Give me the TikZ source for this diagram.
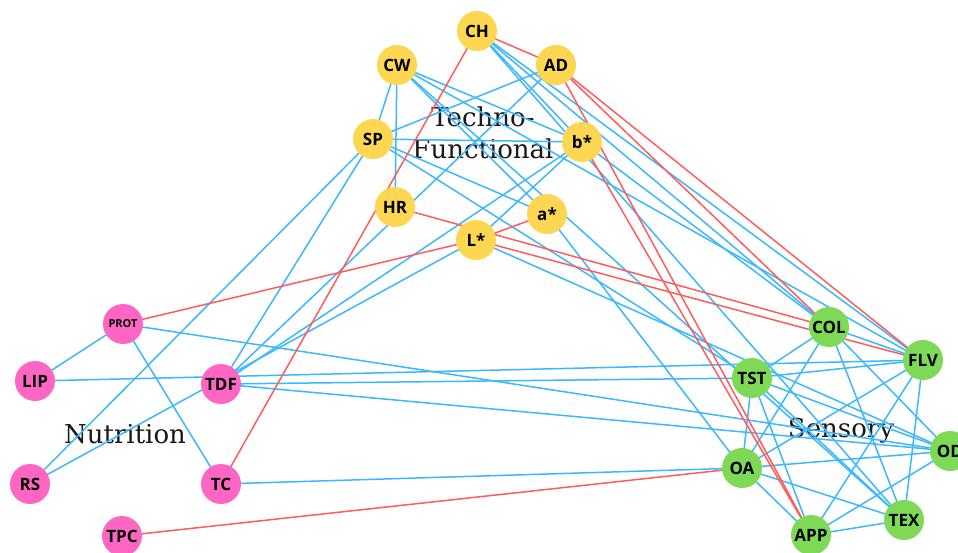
\documentclass[tikz,border=0pt]{standalone}
\usepackage{fontspec}
\newfontfamily\nodefont{Open Sans}
\newfontfamily\grpfont{DejaVu Serif}
\definecolor{ylw}{HTML}{FDD752}
\definecolor{pnk}{HTML}{FF66C4}
\definecolor{grn}{HTML}{7ED957}
\definecolor{blu}{HTML}{3CB8FF}
\definecolor{rd}{HTML}{FF5C5C}
\tikzset{
  nd/.style={circle,minimum size=40pt,inner sep=0pt,font=\nodefont\bfseries\fontsize{17}{17}\selectfont},
  yn/.style={nd,fill=ylw},
  pn/.style={nd,fill=pnk},
  gn/.style={nd,fill=grn},
  be/.style={blu,line width=1.5pt},
  re/.style={rd,line width=1.5pt},
  grp/.style={font=\grpfont\fontsize{26}{32}\selectfont,align=center,text=black!90}
}
\begin{document}
\begin{tikzpicture}[x=1pt,y=-1pt]
\useasboundingbox (0,0) rectangle (958,552);
\clip (0,0) rectangle (958,552);
\fill[white] (0,0) rectangle (958,552);
% labels
\node[grp] (tf) at (483,133) {Techno-\\Functional};
\node[grp] (nu) at (125,434) {Nutrition};
\node[grp] (se) at (841,431) {Sensory};
% coordinates of nodes
\coordinate (CH) at (477,31);
\coordinate (CW) at (397,65);
\coordinate (AD) at (556,65);
\coordinate (SP) at (373,139);
\coordinate (BS) at (582,142);
\coordinate (HR) at (395,207);
\coordinate (AS) at (547,214);
\coordinate (LS) at (476,240);
\coordinate (PROT) at (123,324);
\coordinate (LIP) at (35,381);
\coordinate (TDF) at (221,384);
\coordinate (RS) at (30,484);
\coordinate (TC) at (221,484);
\coordinate (TPC) at (122,536);
\coordinate (COL) at (829,327);
\coordinate (FLV) at (923,360);
\coordinate (TST) at (752,378);
\coordinate (OD) at (950,451);
\coordinate (OA) at (742,468);
\coordinate (TEX) at (904,520);
\coordinate (APP) at (811,535);
% blue edges
\foreach \a/\b in {CW/SP,CW/HR,CW/BS,CW/FLV,CW/TEX,CW/AS,SP/AD,SP/BS,SP/AS,SP/TST,SP/RS,SP/TDF,
  CH/BS,CH/COL,CH/FLV,CH/TEX,AD/TDF,BS/TDF,BS/LS,BS/COL,AS/OA,LS/OD,RS/LS,
  PROT/LIP,PROT/TC,PROT/OD,LIP/FLV,TDF/TST,TDF/OD,TC/OA,
  COL/TST,COL/OA,COL/TEX,COL/FLV,COL/OD,FLV/TST,FLV/OA,FLV/APP,FLV/TEX,
  TST/OA,TST/APP,TST/TEX,TST/OD,OA/OD,OA/TEX,OA/APP,APP/TEX,APP/OD}
  \draw[be] (\a) -- (\b);
% red edges
\foreach \a/\b in {CH/AD,CH/TC,AD/COL,AD/FLV,AD/APP,BS/APP,HR/COL,LS/FLV,LS/PROT,LS/AS,TPC/OA}
  \draw[re] (\a) -- (\b);
% nodes
\node[yn] (nCH) at (CH) {CH};
\node[yn] (nCW) at (CW) {CW};
\node[yn] (nAD) at (AD) {AD};
\node[yn] (nSP) at (SP) {SP};
\node[yn] (nBS) at (BS) {b*};
\node[yn] (nHR) at (HR) {HR};
\node[yn] (nAS) at (AS) {a*};
\node[yn] (nLS) at (LS) {L*};
\node[pn,font=\nodefont\bfseries\fontsize{11}{11}\selectfont] (nPROT) at (PROT) {PROT};
\node[pn] (nLIP) at (LIP) {LIP};
\node[pn] (nTDF) at (TDF) {TDF};
\node[pn] (nRS) at (RS) {RS};
\node[pn] (nTC) at (TC) {TC};
\node[pn] (nTPC) at (TPC) {TPC};
\node[gn] (nCOL) at (COL) {COL};
\node[gn] (nFLV) at (FLV) {FLV};
\node[gn] (nTST) at (TST) {TST};
\node[gn] (nOD) at (OD) {OD};
\node[gn] (nOA) at (OA) {OA};
\node[gn] (nTEX) at (TEX) {TEX};
\node[gn] (nAPP) at (APP) {APP};
\end{tikzpicture}
\end{document}
